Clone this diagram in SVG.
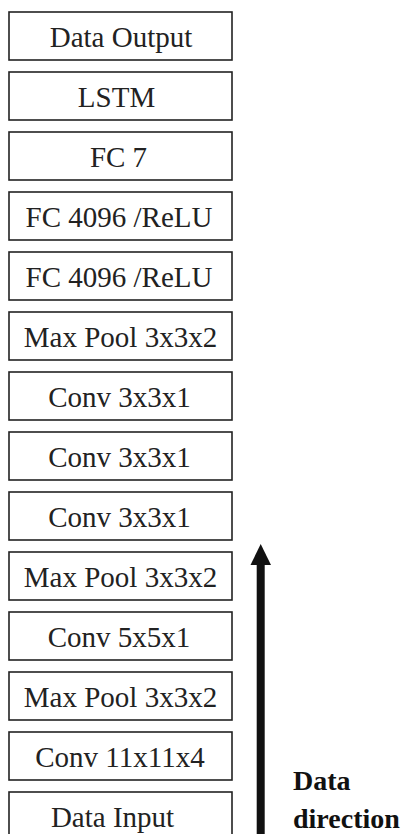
<svg xmlns="http://www.w3.org/2000/svg" width="402" height="834" viewBox="0 0 402 834">
<style>
.box rect{fill:#fff;stroke:#222;stroke-width:1.6}
.box text{font-family:"Liberation Serif","Times New Roman",serif;font-size:29px;fill:#222;text-anchor:middle}
.lbl{font-family:"Liberation Serif","Times New Roman",serif;font-size:28px;font-weight:bold;fill:#111}
</style>
<rect width="402" height="834" fill="#fff"/>
<g id="n0" class="box"><rect x="9" y="12" width="223" height="48"/><text x="121" y="47">Data Output</text></g>
<g id="n1" class="box"><rect x="9" y="72" width="223" height="48"/><text x="116.5" y="107">LSTM</text></g>
<g id="n2" class="box"><rect x="9" y="132" width="223" height="48"/><text x="118.5" y="167">FC 7</text></g>
<g id="n3" class="box"><rect x="9" y="192" width="223" height="48"/><text x="119" y="227">FC 4096 /ReLU</text></g>
<g id="n4" class="box"><rect x="9" y="252" width="223" height="48"/><text x="119" y="287">FC 4096 /ReLU</text></g>
<g id="n5" class="box"><rect x="9" y="312" width="223" height="48"/><text x="120.5" y="347">Max Pool 3x3x2</text></g>
<g id="n6" class="box"><rect x="9" y="372" width="223" height="48"/><text x="119.5" y="407">Conv 3x3x1</text></g>
<g id="n7" class="box"><rect x="9" y="432" width="223" height="48"/><text x="119.5" y="467">Conv 3x3x1</text></g>
<g id="n8" class="box"><rect x="9" y="492" width="223" height="48"/><text x="119.5" y="527">Conv 3x3x1</text></g>
<g id="n9" class="box"><rect x="9" y="552" width="223" height="48"/><text x="120.5" y="587">Max Pool 3x3x2</text></g>
<g id="n10" class="box"><rect x="9" y="612" width="223" height="48"/><text x="119" y="647">Conv 5x5x1</text></g>
<g id="n11" class="box"><rect x="9" y="672" width="223" height="48"/><text x="120.5" y="707">Max Pool 3x3x2</text></g>
<g id="n12" class="box"><rect x="9" y="732" width="223" height="48"/><text x="120" y="767">Conv 11x11x4</text></g>
<g id="n13" class="box"><rect x="9" y="792" width="223" height="48"/><text x="112.5" y="827">Data Input</text></g>
<g id="connectors">
<rect x="256.7" y="563" width="8" height="275" fill="#111"/>
<polygon points="260.7,544 271,565 250.5,565" fill="#111"/>
</g>
<text class="lbl" x="293" y="790">Data</text>
<text class="lbl" x="293" y="828">direction</text>
</svg>
